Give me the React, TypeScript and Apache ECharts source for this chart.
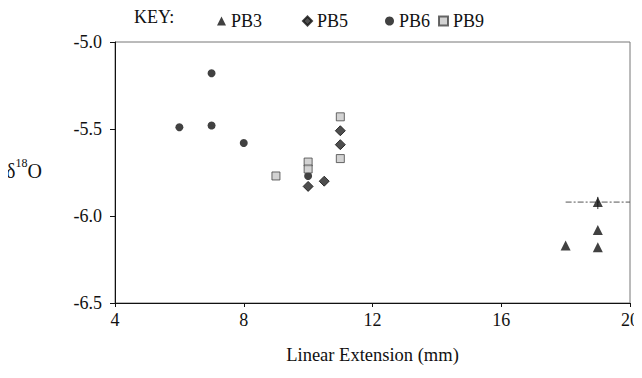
import React, { useEffect, useRef } from "react";
import * as echarts from "echarts";

// Linear extension (mm) vs δ18O for four specimens
const pb3: [number, number][] = [
  [19, -5.92],
  [19, -6.08],
  [19, -6.18],
  [18, -6.17],
];
const pb5: [number, number][] = [
  [11, -5.51],
  [11, -5.59],
  [10, -5.83],
  [10.5, -5.8],
];
const pb6: [number, number][] = [
  [6, -5.49],
  [7, -5.18],
  [7, -5.48],
  [8, -5.58],
  [10, -5.77],
];
const pb9: [number, number][] = [
  [11, -5.43],
  [11, -5.67],
  [10, -5.69],
  [10, -5.73],
  [9, -5.77],
];
// error bars on the upper PB3 point
const pb3ErrX: [number, number][] = [
  [18, -5.92],
  [20, -5.92],
];
const pb3ErrY: [number, number][] = [
  [19, -5.89],
  [19, -5.96],
];

const xTicks = [4, 8, 12, 16, 20];
const yTicks = [-6.5, -6.0, -5.5, -5.0];

const FONT = "'Liberation Serif', 'Times New Roman', serif";

export default function App() {
  const ref = useRef<HTMLDivElement>(null);
  useEffect(() => {
    if (!ref.current) return;
    const chart = echarts.init(ref.current, null, { renderer: "svg" });
    const legendBase = {
      top: 7,
      itemWidth: 9,
      itemHeight: 9,
      itemGap: 4,
      textStyle: { fontFamily: FONT, fontSize: 18, color: "#111" },
    };
    chart.setOption({
      animation: false,
      backgroundColor: "#fff",
      textStyle: { fontFamily: FONT },
      grid: {
        left: 115,
        right: 9,
        top: 42,
        bottom: 75,
        show: true,
        borderColor: "#777",
        borderWidth: 1,
      },
      legend: [
        { ...legendBase, left: 212, data: ["PB3"] },
        { ...legendBase, left: 297, data: ["PB5"] },
        { ...legendBase, left: 380, data: ["PB6"] },
        { ...legendBase, left: 433, data: ["PB9"] },
      ],
      graphic: [
        {
          type: "text",
          left: 134,
          top: 8,
          style: { text: "KEY:", fontFamily: FONT, fontSize: 18, fill: "#111" },
        },
        {
          type: "text",
          left: 6,
          top: 157,
          style: {
            text: "{d|δ}{s|18}{o|O}",
            rich: {
              d: { fontFamily: FONT, fontSize: 20, fill: "#111", verticalAlign: "bottom", lineHeight: 24 },
              s: { fontFamily: FONT, fontSize: 12, fill: "#111", verticalAlign: "top", lineHeight: 24 },
              o: { fontFamily: FONT, fontSize: 20, fill: "#111", verticalAlign: "bottom", lineHeight: 24 },
            },
          },
        },
      ],
      xAxis: {
        type: "value",
        min: xTicks[0],
        max: xTicks[xTicks.length - 1],
        interval: 4,
        name: "Linear Extension (mm)",
        nameLocation: "middle",
        nameGap: 42,
        nameTextStyle: { fontFamily: FONT, fontSize: 18.5, color: "#111" },
        axisLine: { lineStyle: { color: "#111" } },
        axisTick: { show: true, length: 4, lineStyle: { color: "#111" } },
        axisLabel: { fontFamily: FONT, fontSize: 18, color: "#111", margin: 8 },
        splitLine: { show: false },
      },
      yAxis: {
        type: "value",
        min: yTicks[0],
        max: yTicks[yTicks.length - 1],
        interval: 0.5,
        axisLine: { show: true, lineStyle: { color: "#111" } },
        axisTick: { show: true, length: 5, lineStyle: { color: "#111" } },
        axisLabel: {
          fontFamily: FONT,
          fontSize: 18,
          color: "#111",
          margin: 13,
          formatter: (v: number) => v.toFixed(1),
        },
        splitLine: { show: false },
      },
      series: [
        {
          name: "PB3",
          type: "scatter",
          symbol: "triangle",
          symbolSize: 10,
          itemStyle: { color: "#111" },
          data: pb3,
          z: 3,
        },
        {
          name: "PB5",
          type: "scatter",
          symbol: "diamond",
          symbolSize: 10,
          itemStyle: { color: "#222", borderColor: "#111", borderWidth: 1 },
          data: pb5,
          z: 3,
        },
        {
          name: "PB6",
          type: "scatter",
          symbol: "circle",
          symbolSize: 8,
          itemStyle: { color: "#111" },
          data: pb6,
          z: 2,
        },
        {
          name: "PB9",
          type: "scatter",
          symbol: "rect",
          symbolSize: 8,
          itemStyle: { color: "#c8c8c8", borderColor: "#444", borderWidth: 1 },
          data: pb9,
          z: 4,
        },
        {
          name: "errX",
          type: "line",
          data: pb3ErrX,
          symbol: "none",
          lineStyle: { color: "#555", width: 1, type: [6, 2, 2, 2] },
          z: 1,
        },
        {
          name: "errY",
          type: "line",
          data: pb3ErrY,
          symbol: "none",
          lineStyle: { color: "#333", width: 1 },
          z: 1,
        },
      ],
    });
    return () => chart.dispose();
  }, []);
  return <div ref={ref} style={{ width: 642, height: 378, margin: -8 }} />;
}
